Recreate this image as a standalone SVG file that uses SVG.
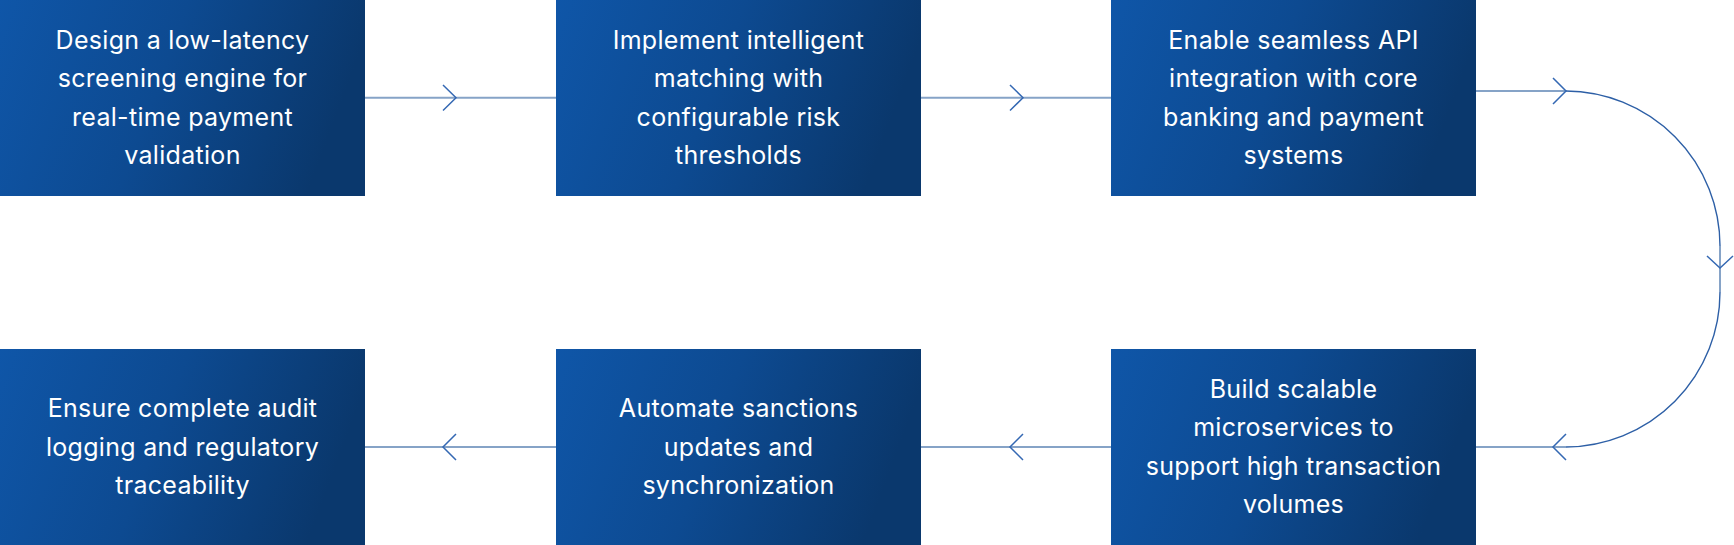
<svg xmlns="http://www.w3.org/2000/svg" width="1734" height="545" viewBox="0 0 1734 545">
  <defs>
    <linearGradient id="boxGrad" x1="0" y1="0" x2="1" y2="0.2">
      <stop offset="0" stop-color="#0f56a8"/>
      <stop offset="0.5" stop-color="#0d4a91"/>
      <stop offset="1" stop-color="#0a386d"/>
    </linearGradient>
    <style>
      .box { fill: url(#boxGrad); }
      .lbl { font-family: Inter, "Liberation Sans", sans-serif; font-size: 25px; letter-spacing: 0.3px; fill: #ffffff; text-anchor: middle; }
      .line { stroke: #86a3c7; stroke-width: 2; fill: none; }
      .arc { stroke: #2d5fa6; stroke-width: 1.4; fill: none; }
      .head { stroke: #3468b3; stroke-width: 1.5; fill: none; }
    </style>
  </defs>
  <rect width="1734" height="545" fill="#ffffff"/>

  <g id="connectors">
    <line class="line" x1="365" y1="97.7" x2="556" y2="97.7"/>
    <polyline class="head" points="443,85 456,97.7 443,110.5"/>
    <line class="line" x1="921" y1="97.7" x2="1111" y2="97.7"/>
    <polyline class="head" points="1010,85 1023,97.7 1010,110.5"/>
    <line class="line" x1="1476" y1="91" x2="1566" y2="91"/>
    <polyline class="head" points="1553,78 1566,91 1553,104"/>
    <path class="arc" d="M1566 91 A155 155 0 0 1 1720 246"/>
    <line class="line" x1="1720" y1="246" x2="1720" y2="292"/>
    <polyline class="head" points="1707,256 1720,268 1733,256"/>
    <path class="arc" d="M1720 292 A155 155 0 0 1 1566 447"/>
    <line class="line" x1="1566" y1="447" x2="1476" y2="447"/>
    <polyline class="head" points="1566,434 1553,447 1566,460"/>
    <line class="line" x1="921" y1="447" x2="1111" y2="447"/>
    <polyline class="head" points="1023,434 1010,447 1023,460"/>
    <line class="line" x1="365" y1="447" x2="556" y2="447"/>
    <polyline class="head" points="456,434 443,447 456,460"/>
  </g>

  <g id="node1">
    <rect class="box" x="0" y="0" width="365" height="196"/>
    <text class="lbl" x="182.5" y="48.5">Design a low-latency</text>
    <text class="lbl" x="182.5" y="87">screening engine for</text>
    <text class="lbl" x="182.5" y="125.5">real-time payment</text>
    <text class="lbl" x="182.5" y="164">validation</text>
  </g>
  <g id="node2">
    <rect class="box" x="556" y="0" width="365" height="196"/>
    <text class="lbl" x="738.5" y="48.5">Implement intelligent</text>
    <text class="lbl" x="738.5" y="87">matching with</text>
    <text class="lbl" x="738.5" y="125.5">configurable risk</text>
    <text class="lbl" x="738.5" y="164">thresholds</text>
  </g>
  <g id="node3">
    <rect class="box" x="1111" y="0" width="365" height="196"/>
    <text class="lbl" x="1293.5" y="48.5">Enable seamless API</text>
    <text class="lbl" x="1293.5" y="87">integration with core</text>
    <text class="lbl" x="1293.5" y="125.5">banking and payment</text>
    <text class="lbl" x="1293.5" y="164">systems</text>
  </g>
  <g id="node4">
    <rect class="box" x="1111" y="349" width="365" height="196"/>
    <text class="lbl" x="1293.5" y="397.5">Build scalable</text>
    <text class="lbl" x="1293.5" y="436">microservices to</text>
    <text class="lbl" x="1293.5" y="474.5">support high transaction</text>
    <text class="lbl" x="1293.5" y="513">volumes</text>
  </g>
  <g id="node5">
    <rect class="box" x="556" y="349" width="365" height="196"/>
    <text class="lbl" x="738.5" y="417">Automate sanctions</text>
    <text class="lbl" x="738.5" y="455.5">updates and</text>
    <text class="lbl" x="738.5" y="494">synchronization</text>
  </g>
  <g id="node6">
    <rect class="box" x="0" y="349" width="365" height="196"/>
    <text class="lbl" x="182.5" y="417">Ensure complete audit</text>
    <text class="lbl" x="182.5" y="455.5">logging and regulatory</text>
    <text class="lbl" x="182.5" y="494">traceability</text>
  </g>
</svg>
